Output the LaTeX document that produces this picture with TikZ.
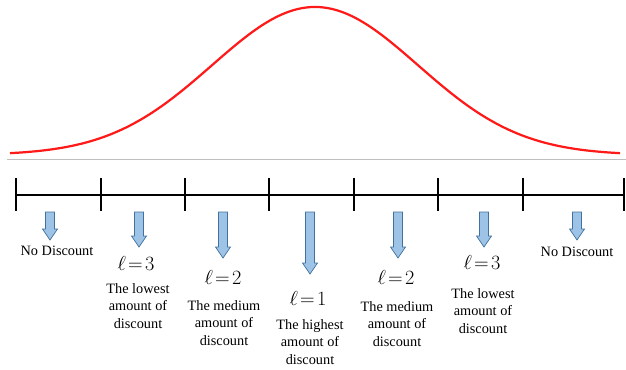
\documentclass[tikz,border=0pt]{standalone}
\usepackage{fontspec}
\setmainfont{Liberation Serif}
\usepackage{tikz}
\usetikzlibrary{calc}
\definecolor{curvered}{HTML}{FF1A1A}
\definecolor{axisgray}{HTML}{BFBFBF}
\definecolor{arrowfill}{HTML}{9DC3E6}
\definecolor{arrowedge}{HTML}{41719C}
\tikzstyle{bigarrow} = [draw=arrowedge, fill=arrowfill, line width=0.6pt, line join=miter]
\tikzstyle{level} = [font=\fontsize{16}{18}\selectfont, inner sep=0pt]
\tikzstyle{desc} = [align=center, font=\fontsize{12.2}{15}\selectfont, inner sep=0pt]

\begin{document}
\begin{tikzpicture}[x=0.03cm, y=-0.03cm]
    \useasboundingbox (0,0) rectangle (626,369);
    % bell curve and baseline
    \draw[axisgray, line width=0.8pt] (7,159) -- (626,159);
    \draw[curvered, line width=1.9pt] plot[domain=10:620, samples=120, smooth]
        (\x, {155-148*exp(-((\x-315)/103)^2/2)});
    % number line with ticks
    \draw[black, line width=1pt] (16,195) -- (624,195);
    \foreach \t in {16, 101, 185, 269, 354, 438, 523, 624}
        \draw[black, line width=1pt] (\t,178) -- (\t,211);
    % block arrows: x position / tip y
    \foreach \ax/\tip in {50/240, 139/247, 223/258, 310/274, 398/258, 484/247, 577/240}
        \draw[bigarrow] (\ax-4.5,212) -- (\ax+4.5,212) -- (\ax+4.5,\tip-11)
            -- (\ax+7.5,\tip-11) -- (\ax,\tip) -- (\ax-7.5,\tip-11)
            -- (\ax-4.5,\tip-11) -- cycle;
    % labels
    \node[desc] (nodiscL) at (57,251) {No Discount};
    \node[desc] (nodiscR) at (577,252) {No Discount};
    \node[level] (lthreeL) at (136,263) {$\ell\!=\!3$};
    \node[desc] (lowL) at (138,306) {The lowest\\amount of\\discount};
    \node[level] (ltwoL) at (223,277) {$\ell\!=\!2$};
    \node[desc] (medL) at (224,323) {The medium\\amount of\\discount};
    \node[level] (lone) at (308,298) {$\ell\!=\!1$};
    \node[desc] (high) at (310,342) {The highest\\amount of\\discount};
    \node[level] (ltwoR) at (396,277) {$\ell\!=\!2$};
    \node[desc] (medR) at (397,324) {The medium\\amount of\\discount};
    \node[level] (lthreeR) at (482,262) {$\ell\!=\!3$};
    \node[desc] (lowR) at (483,311) {The lowest\\amount of\\discount};
\end{tikzpicture}
\end{document}
